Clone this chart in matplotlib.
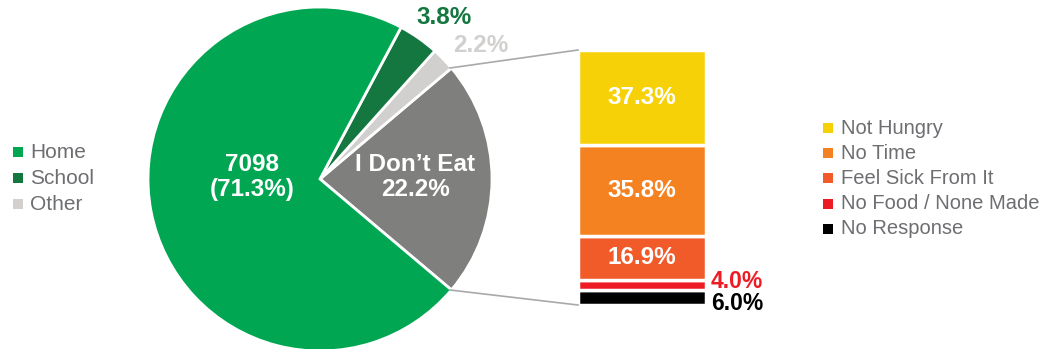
import matplotlib
matplotlib.use('Agg')
import matplotlib.pyplot as plt
from matplotlib.patches import Rectangle

plt.rcParams['font.family'] = ['Liberation Sans', 'DejaVu Sans']

# ================= data =================
where_labels = ["Home", "School", "Other", "I Don\u2019t Eat"]
where_pct = [71.3, 3.8, 2.2, 22.2]
where_colors = ["#00A651", "#13773F", "#D1D0CE", "#7F7F7E"]
home_count = 7098

why_labels = ["Not Hungry", "No Time", "Feel Sick From It", "No Food / None Made", "No Response"]
why_pct = [37.3, 35.8, 16.9, 4.0, 6.0]
why_colors = ["#F7D108", "#F58220", "#F15A29", "#ED1C24", "#000000"]

W, H = 1047, 349
BIG = 17.5
fig = plt.figure(figsize=(W / 100, H / 100), dpi=100)
ax = fig.add_axes([0, 0, 1, 1])

# ---- pie: "I Don't Eat" wedge centred on the right-hand side ----
cx, cy, r = 320, 170, 172
order = [3, 2, 1, 0]
start = -where_pct[3] / sum(where_pct) * 360 / 2
ax.pie([where_pct[i] for i in order], colors=[where_colors[i] for i in order],
       center=(cx, cy), radius=r, startangle=start, counterclock=True,
       wedgeprops=dict(edgecolor='white', linewidth=2), frame=True)
ax.set_xlim(0, W)
ax.set_ylim(0, H)
ax.set_aspect('equal')
ax.axis('off')

ax.text(252, 172, f"{home_count}\n({where_pct[0]}%)", color='white', fontsize=BIG,
        fontweight='bold', ha='center', va='center', linespacing=1.1)
ax.text(415, 172, f"{where_labels[3]}\n{where_pct[3]}%", color='white', fontsize=BIG,
        fontweight='bold', ha='center', va='center', linespacing=1.1)
ax.text(444, 331, f"{where_pct[1]}%", color=where_colors[1], fontsize=BIG,
        fontweight='bold', ha='center', va='center')
ax.text(481, 303, f"{where_pct[2]}%", color=where_colors[2], fontsize=BIG,
        fontweight='bold', ha='center', va='center')

# ---- stacked bar breaking down "I Don't Eat" ----
bx0, bw, by0, bh = 578, 128, 44, 255
scale = bh / sum(why_pct)
bottom = by0
segs = []
for lab, p, c in zip(why_labels[::-1], why_pct[::-1], why_colors[::-1]):
    ax.bar(bx0 + bw / 2, p * scale, width=bw, bottom=bottom, color=c,
           edgecolor='white', linewidth=2.5)
    segs.append((lab, p, c, bottom + p * scale / 2))
    bottom += p * scale

for lab, p, c, mid in segs:
    if p >= 10:
        ax.text(bx0 + bw / 2, mid, f"{p}%", color='white', fontsize=BIG,
                fontweight='bold', ha='center', va='center')
# small segments get their labels outside, to the right
ax.text(711, 67, f"{why_pct[3]}%", color=why_colors[3], fontsize=16.5,
        fontweight='bold', ha='left', va='center')
ax.text(711, 46, f"{why_pct[4]}%", color=why_colors[4], fontsize=16.5,
        fontweight='bold', ha='left', va='center')

# connector lines from the wedge to the bar
ax.plot([450, bx0], [281, by0 + bh], color='#A7A9AC', lw=1.2)
ax.plot([450, bx0], [59, by0], color='#A7A9AC', lw=1.2)

# ---- legends ----
txt_col = '#6D6E71'
for i in range(3):
    y = H - (152 + 26 * i)
    ax.add_patch(Rectangle((13, y - 5), 10, 10, color=where_colors[i], lw=0))
    ax.text(30, y, where_labels[i], color=txt_col, fontsize=15, ha='left', va='center')

for i, lab in enumerate(why_labels):
    y = H - (128 + 25.2 * i)
    ax.add_patch(Rectangle((823, y - 5), 10, 10, color=why_colors[i], lw=0))
    ax.text(841, y, lab, color=txt_col, fontsize=14.5, ha='left', va='center')

fig.savefig('out.png', dpi=100)
